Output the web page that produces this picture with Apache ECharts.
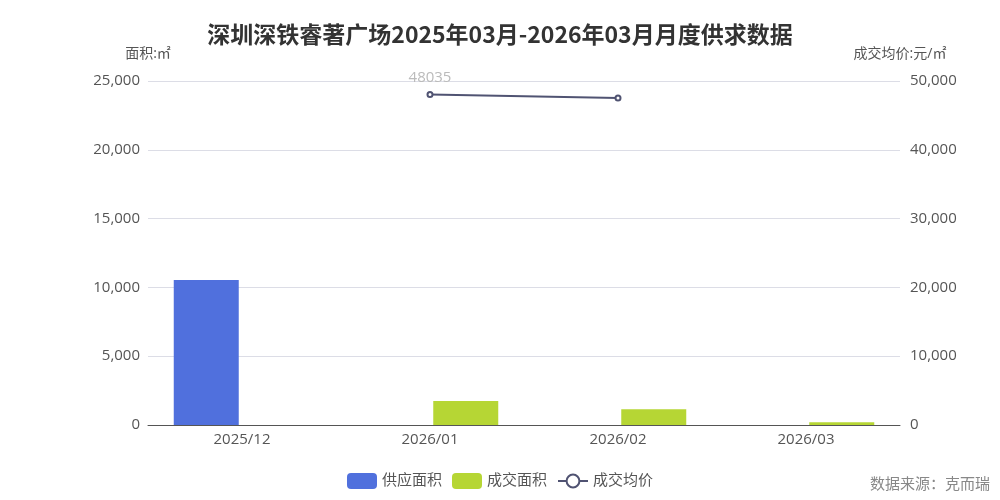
<!DOCTYPE html>
<html><head><meta charset="utf-8">
<script src="https://cdn.jsdelivr.net/npm/echarts@6/dist/echarts.min.js"></script>
<style>html,body{margin:0;padding:0;background:#fff}#c{width:1000px;height:500px}</style>
</head><body><div id="c"></div>
<script>
const categories = ['2025/12', '2026/01', '2026/02', '2026/03'];
const supplyArea = [10540, null, null, null];
const dealArea = [null, 1750, 1140, 200];
const avgPrice = [null, 48035, 47540, null];
const leftTicks = {min: 0, max: 25000, interval: 5000};
const rightTicks = {min: 0, max: 50000, interval: 10000};

const font = "'Open Sans', 'Noto Sans CJK SC', sans-serif";
const chart = echarts.init(document.getElementById('c'));
chart.setOption({
  animation: false,
  textStyle: {fontFamily: font},
  title: {
    text: '深圳深铁睿著广场2025年03月-2026年03月月度供求数据',
    left: 'center', top: 18,
    textStyle: {fontSize: 23, fontWeight: 'bold', color: '#333', fontFamily: "'Noto Sans CJK SC', sans-serif"}
  },
  graphic: [{
    type: 'text', right: 10, bottom: 8,
    style: {text: '数据来源：克而瑞', fill: '#888', font: '15px ' + font}
  }],
  legend: {
    bottom: 6, left: 'center', itemWidth: 30, itemHeight: 16, itemGap: 10,
    textStyle: {fontSize: 15, color: '#555'},
    data: ['供应面积', '成交面积', '成交均价']
  },
  grid: {left: 148, right: 100, top: 81, bottom: 75, containLabel: false},
  xAxis: {
    type: 'category', data: categories,
    axisTick: {show: false},
    axisLine: {lineStyle: {color: '#555'}},
    axisLabel: {fontSize: 15, color: '#555', margin: 7}
  },
  yAxis: [{
    type: 'value', name: '面积:㎡', nameGap: 20,
    nameTextStyle: {fontSize: 14, color: '#555'},
    min: leftTicks.min, max: leftTicks.max, interval: leftTicks.interval,
    axisLabel: {fontSize: 15, color: '#555', margin: 8},
    splitLine: {lineStyle: {color: '#dcdde6'}}
  }, {
    type: 'value', name: '成交均价:元/㎡', nameGap: 20,
    nameTextStyle: {fontSize: 14, color: '#555'},
    min: rightTicks.min, max: rightTicks.max, interval: rightTicks.interval,
    axisLabel: {fontSize: 15, color: '#555', margin: 10},
    splitLine: {show: false}
  }],
  series: [{
    name: '供应面积', type: 'bar', data: supplyArea, barWidth: 65, barGap: '10%',
    itemStyle: {color: '#5070dd'}
  }, {
    name: '成交面积', type: 'bar', data: dealArea, barWidth: 65, barGap: '10%',
    itemStyle: {color: '#b6d634'}
  }, {
    name: '成交均价', type: 'line', yAxisIndex: 1,
    data: avgPrice.map((v, i) => i === 2 ? {value: v, label: {show: false}} : v),
    symbol: 'emptyCircle', symbolSize: 5,
    lineStyle: {width: 2, color: '#505372'},
    itemStyle: {color: '#505372'},
    label: {show: true, position: 'top', distance: 6, fontSize: 15, color: '#bbb'}
  }]
});
</script></body></html>
